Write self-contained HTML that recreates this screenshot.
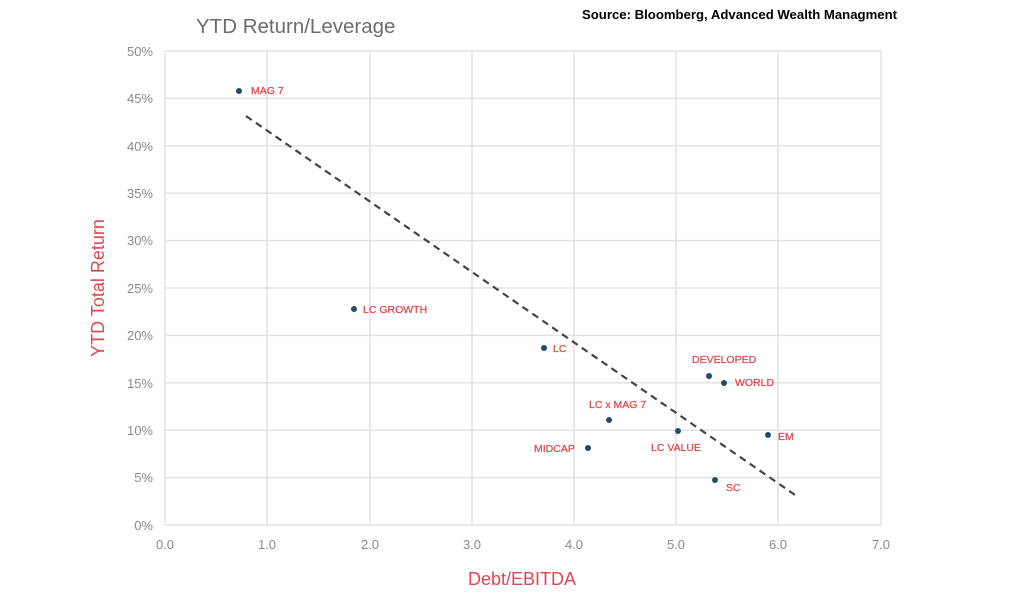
<!DOCTYPE html>
<html><head><meta charset="utf-8"><style>
body{margin:0;background:#fff;width:1024px;height:603px;overflow:hidden}
svg{display:block}
text{font-family:"Liberation Sans",sans-serif}
</style></head><body>
<svg width="1024" height="603" viewBox="0 0 1024 603">
<rect width="1024" height="603" fill="#fff"/>
<text x="196" y="33" font-size="20.5" fill="#6d6d6d">YTD Return/Leverage</text>
<text x="582" y="19" font-size="12.5" font-weight="bold" fill="#000" textLength="315" lengthAdjust="spacingAndGlyphs">Source: Bloomberg, Advanced Wealth Managment</text>
<g stroke="#e2e2e2" stroke-width="1.5" fill="none">
<line x1="165" y1="51" x2="881" y2="51"/>
<line x1="165" y1="98.4" x2="881" y2="98.4"/>
<line x1="165" y1="145.8" x2="881" y2="145.8"/>
<line x1="165" y1="193.2" x2="881" y2="193.2"/>
<line x1="165" y1="240.6" x2="881" y2="240.6"/>
<line x1="165" y1="288" x2="881" y2="288"/>
<line x1="165" y1="335.4" x2="881" y2="335.4"/>
<line x1="165" y1="382.8" x2="881" y2="382.8"/>
<line x1="165" y1="430.2" x2="881" y2="430.2"/>
<line x1="165" y1="477.6" x2="881" y2="477.6"/>
<line x1="165" y1="525" x2="881" y2="525"/>
<line x1="165" y1="51" x2="165" y2="525"/>
<line x1="267" y1="51" x2="267" y2="525"/>
<line x1="370" y1="51" x2="370" y2="525"/>
<line x1="472" y1="51" x2="472" y2="525"/>
<line x1="574" y1="51" x2="574" y2="525"/>
<line x1="676" y1="51" x2="676" y2="525"/>
<line x1="778" y1="51" x2="778" y2="525"/>
<line x1="881" y1="51" x2="881" y2="525"/>
</g>
<g font-size="13" fill="#8a8a8a" text-anchor="end">
<text x="153" y="56">50%</text><text x="153" y="103">45%</text><text x="153" y="151">40%</text>
<text x="153" y="198">35%</text><text x="153" y="245">30%</text><text x="153" y="293">25%</text>
<text x="153" y="340">20%</text><text x="153" y="388">15%</text><text x="153" y="435">10%</text>
<text x="153" y="482">5%</text><text x="153" y="530">0%</text>
</g>
<g font-size="13" fill="#8a8a8a" text-anchor="middle">
<text x="165" y="549">0.0</text><text x="267" y="549">1.0</text><text x="370" y="549">2.0</text>
<text x="472" y="549">3.0</text><text x="574" y="549">4.0</text><text x="676" y="549">5.0</text>
<text x="778" y="549">6.0</text><text x="881" y="549">7.0</text>
</g>
<text x="522" y="585" font-size="18" fill="#e0484f" text-anchor="middle">Debt/EBITDA</text>
<text transform="translate(104,288) rotate(-90)" font-size="18" fill="#e0484f" text-anchor="middle">YTD Total Return</text>
<line x1="246" y1="116" x2="798" y2="497" stroke="#444" stroke-width="2.2" stroke-dasharray="7,5"/>
<g fill="#1f4e6b">
<circle cx="239" cy="91" r="3"/><circle cx="354" cy="309" r="3"/><circle cx="544" cy="348" r="3"/>
<circle cx="709" cy="376" r="3"/><circle cx="724" cy="383" r="3"/><circle cx="609" cy="420" r="3"/>
<circle cx="678" cy="431" r="3"/><circle cx="588" cy="448" r="3"/><circle cx="768" cy="435" r="3"/>
<circle cx="715" cy="480" r="3"/>
</g>
<g font-size="10.5" fill="#e0484f" stroke="#e0484f" stroke-width="0.25">
<text x="251" y="94">MAG 7</text>
<text x="363" y="313">LC GROWTH</text>
<text x="553" y="352">LC</text>
<text x="692" y="363">DEVELOPED</text>
<text x="735" y="386">WORLD</text>
<text x="589" y="408">LC x MAG 7</text>
<text x="651" y="451">LC VALUE</text>
<text x="534" y="452">MIDCAP</text>
<text x="778" y="440">EM</text>
<text x="726" y="491">SC</text>
</g>
</svg>
</body></html>
